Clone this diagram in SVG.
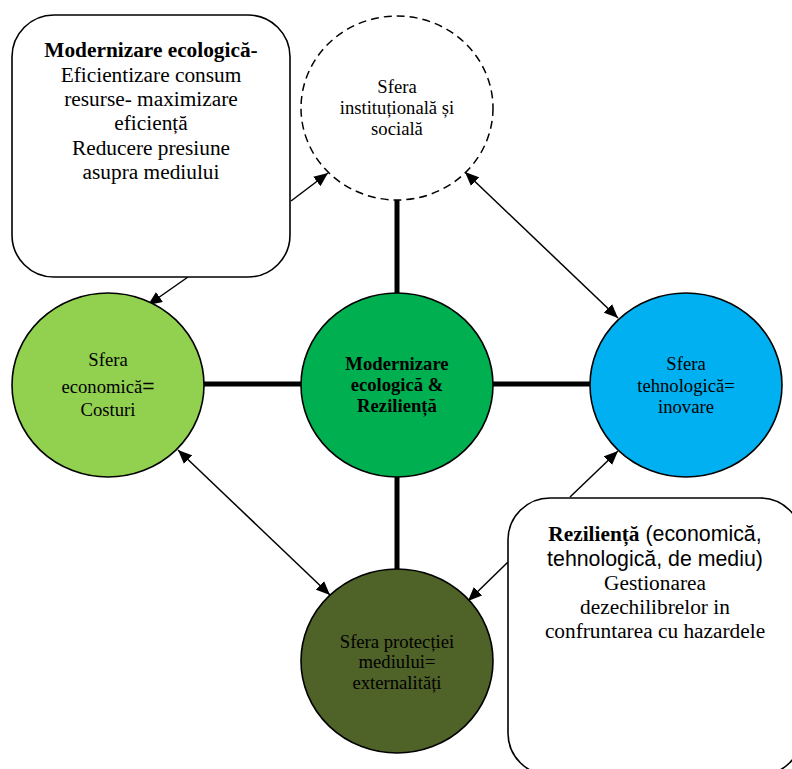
<svg xmlns="http://www.w3.org/2000/svg" width="792" height="769" viewBox="0 0 792 769">
<style>
.node{stroke:#000;stroke-width:1.6}
.box{fill:#fff;stroke:#000;stroke-width:1.6}
.t{font-family:"Liberation Serif","Times New Roman",serif;font-size:18.67px;fill:#000;text-anchor:middle}
.tb{font-family:"Liberation Serif","Times New Roman",serif;font-size:21.33px;fill:#000;text-anchor:middle}
.b{font-weight:bold}
.sans{font-family:"Liberation Sans",Arial,sans-serif}
.thick{stroke:#000;stroke-width:5;fill:none}
.arr{stroke:#000;stroke-width:1.5;fill:none}
</style>
<defs>
<marker id="ah" viewBox="0 0 14 12" refX="14" refY="6" markerWidth="14" markerHeight="12" markerUnits="userSpaceOnUse" orient="auto-start-reverse">
<path d="M0,0 L14,6 L0,12 Z" fill="#000"/>
</marker>
</defs>
<g id="connectors">
<line class="thick" x1="397" y1="200" x2="397" y2="293"/>
<line class="thick" x1="397" y1="477" x2="397" y2="569"/>
<line class="thick" x1="204" y1="384" x2="301" y2="384"/>
<line class="thick" x1="493" y1="384" x2="590" y2="384"/>
<line class="arr" x1="291" y1="201" x2="328" y2="173" marker-end="url(#ah)"/>
<line class="arr" x1="188" y1="277" x2="148" y2="305" marker-end="url(#ah)"/>
<line class="arr" x1="465" y1="172" x2="618" y2="318" marker-start="url(#ah)" marker-end="url(#ah)"/>
<line class="arr" x1="178" y1="450" x2="330" y2="595" marker-start="url(#ah)" marker-end="url(#ah)"/>
<line class="arr" x1="508" y1="562" x2="468" y2="601" marker-end="url(#ah)"/>
<line class="arr" x1="570" y1="497" x2="618" y2="451" marker-end="url(#ah)"/>
</g>
<g id="box-modernizare">
<rect class="box" x="12" y="15" width="278" height="262" rx="42" ry="42"/>
<text class="tb" x="151" y="57"><tspan class="b">Modernizare ecologică</tspan><tspan class="b">-</tspan></text>
<text class="tb" x="151" y="81.5">Eficientizare consum</text>
<text class="tb" x="151" y="106">resurse- maximizare</text>
<text class="tb" x="151" y="130">eficiență</text>
<text class="tb" x="151" y="155">Reducere presiune</text>
<text class="tb" x="151" y="179">asupra mediului</text>
</g>
<g id="sfera-institutionala">
<ellipse cx="397" cy="108" rx="96" ry="92" fill="#fff" stroke="#000" stroke-width="1.5" stroke-dasharray="8,5"/>
<text class="t" x="397" y="93">Sfera</text>
<text class="t" x="397" y="114">instituțională și</text>
<text class="t" x="397" y="135">socială</text>
</g>
<g id="sfera-economica">
<ellipse class="node" cx="108" cy="385" rx="96" ry="92" fill="#92D050"/>
<text class="t" x="108" y="366">Sfera</text>
<text class="t" x="108" y="392.5">economică<tspan class="sans" font-size="21px">=</tspan></text>
<text class="t" x="108" y="415.5">Costuri</text>
</g>
<g id="centru">
<ellipse class="node" cx="397" cy="385" rx="96" ry="92" fill="#00B050"/>
<text class="t b" x="397" y="370">Modernizare</text>
<text class="t b" x="397" y="391">ecologică &amp;</text>
<text class="t b" x="397" y="412">Reziliență</text>
</g>
<g id="sfera-tehnologica">
<ellipse class="node" cx="686" cy="385" rx="96" ry="92" fill="#00B0F0"/>
<text class="t" x="686" y="370">Sfera</text>
<text class="t" x="686" y="391.5">tehnologică=</text>
<text class="t" x="686" y="412.5">inovare</text>
</g>
<g id="sfera-protectiei">
<ellipse class="node" cx="397" cy="661" rx="96" ry="92" fill="#4F6228"/>
<text class="t" x="397" y="647.5">Sfera protecției</text>
<text class="t" x="397" y="668">mediului=</text>
<text class="t" x="397" y="689">externalități</text>
</g>
<g id="box-rezilienta">
<rect class="box" x="508" y="498" width="294" height="277" rx="42" ry="42"/>
<text class="tb" x="655" y="541"><tspan class="b">Reziliență</tspan><tspan class="sans"> (economică,</tspan></text>
<text class="tb sans" x="655" y="565.5">tehnologică, de mediu)</text>
<text class="tb" x="655" y="590">Gestionarea</text>
<text class="tb" x="655" y="614">dezechilibrelor in</text>
<text class="tb" x="655" y="638">confruntarea cu hazardele</text>
</g>
</svg>
